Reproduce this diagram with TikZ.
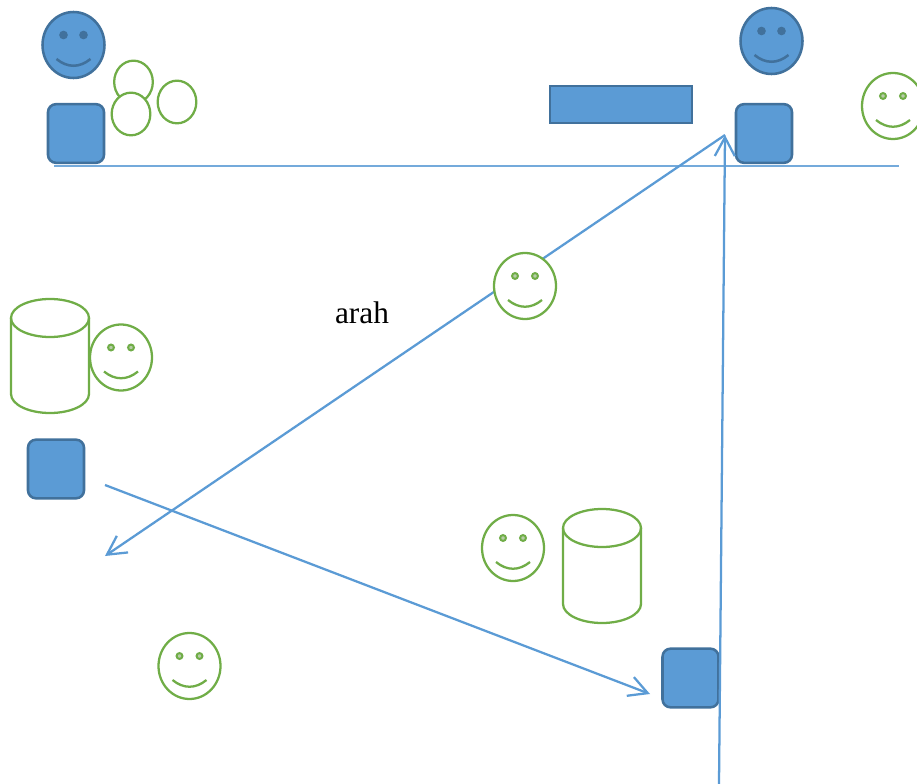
\documentclass[tikz,border=0pt]{standalone}
\usepackage{fontspec}
\setmainfont{Liberation Serif}
\usetikzlibrary{shapes.geometric,arrows.meta}
\definecolor{bfill}{HTML}{5B9BD5}
\definecolor{bline}{HTML}{41719C}
\definecolor{gline}{HTML}{70AD47}
\definecolor{geye}{HTML}{B7CCA8}
\tikzset{
  x=0.75pt,y=-0.75pt,
  bluepart/.style={fill=bfill,draw=bline,line width=1.9pt},
  greenpart/.style={fill=white,draw=gline,line width=1.7pt},
  facebase/.style={ellipse,inner sep=0pt,minimum width=46.5pt,minimum height=49.5pt},
  eyebase/.style={circle,inner sep=0pt},
  squarebox/.style={bluepart,rectangle,rounded corners=6pt,inner sep=0pt,minimum width=42pt,minimum height=44pt},
  plainoval/.style={greenpart,ellipse,inner sep=0pt,minimum width=29pt,minimum height=32pt},
  barbtip/.tip={Straight Barb[length=14pt,width=15pt,line width=1.7pt]},
  flowline/.style={draw=bfill,line width=1.7pt},
  baseline/.style={draw=bfill!85,line width=0.8pt},
  smileblue/.pic={
    \node[facebase,bluepart] (-face) at (0,0) {};
    \node[eyebase,minimum size=6.5pt,fill=bline] (-l) at (-10,-10) {};
    \node[eyebase,minimum size=6.5pt,fill=bline] (-r) at (10,-10) {};
    \draw[draw=bline,line width=1.9pt] (-17,14) .. controls (-6,23) and (6,23) .. (17,14);
  },
  smilegreen/.pic={
    \node[facebase,greenpart] (-face) at (0,0) {};
    \node[eyebase,minimum size=4.4pt,fill=geye,draw=gline,line width=1.5pt] (-l) at (-10,-10) {};
    \node[eyebase,minimum size=4.4pt,fill=geye,draw=gline,line width=1.5pt] (-r) at (10,-10) {};
    \draw[draw=gline,line width=1.7pt] (-17,14) .. controls (-6,23) and (6,23) .. (17,14);
  },
  tank/.pic={
    \path[greenpart] (-39,-38) -- (-39,38) arc[start angle=180,end angle=360,x radius=29.25pt,y radius=14.25pt] -- (39,-38) arc[start angle=0,end angle=180,x radius=29.25pt,y radius=14.25pt] -- cycle;
    \draw[draw=gline,line width=1.7pt] (-39,-38) arc[start angle=180,end angle=360,x radius=29.25pt,y radius=14.25pt];
  },
}
\begin{document}
\begin{tikzpicture}
\useasboundingbox (0,0) rectangle (917,784);
\coordinate (baseA) at (54,166);
\coordinate (baseB) at (899,166);
\coordinate (topTip) at (725,135);
\coordinate (leftTip) at (105,556);
\coordinate (crossStart) at (105,485);
\coordinate (crossEnd) at (650,694);
\coordinate (bottomStart) at (719,784);
\draw[baseline] (baseA) -- (baseB);
\node[squarebox] (boxA) at (76,133.5) {};
\node[squarebox] (boxB) at (764,133.5) {};
\node[squarebox] (boxC) at (56,469) {};
\node[squarebox] (boxD) at (690.5,678) {};
\node[bluepart,rectangle,inner sep=0pt,minimum width=106.5pt,minimum height=27.75pt] (bar) at (621,104.5) {};
\draw[flowline,-barbtip] (bottomStart) -- (topTip);
\draw[flowline,-barbtip] (crossStart) -- (crossEnd);
\draw[flowline,-barbtip] (topTip) -- (leftTip);
\pic (faceA) at (73.5,45) {smileblue};
\pic (faceB) at (771.5,41) {smileblue};
\node[plainoval] (ovalA) at (133.5,82) {};
\node[plainoval] (ovalB) at (131,114) {};
\node[plainoval] (ovalC) at (177,102) {};
\pic (tankA) at (50,356) {tank};
\pic (tankB) at (602,566) {tank};
\pic (faceC) at (893,106) {smilegreen};
\pic (faceD) at (525,286) {smilegreen};
\pic (faceE) at (121,357.5) {smilegreen};
\pic (faceF) at (513,548) {smilegreen};
\pic (faceG) at (189.5,666) {smilegreen};
\node[font=\fontsize{23.5pt}{28pt}\selectfont,inner sep=0pt] (lbl) at (362,313) {arah};
\end{tikzpicture}
\end{document}
